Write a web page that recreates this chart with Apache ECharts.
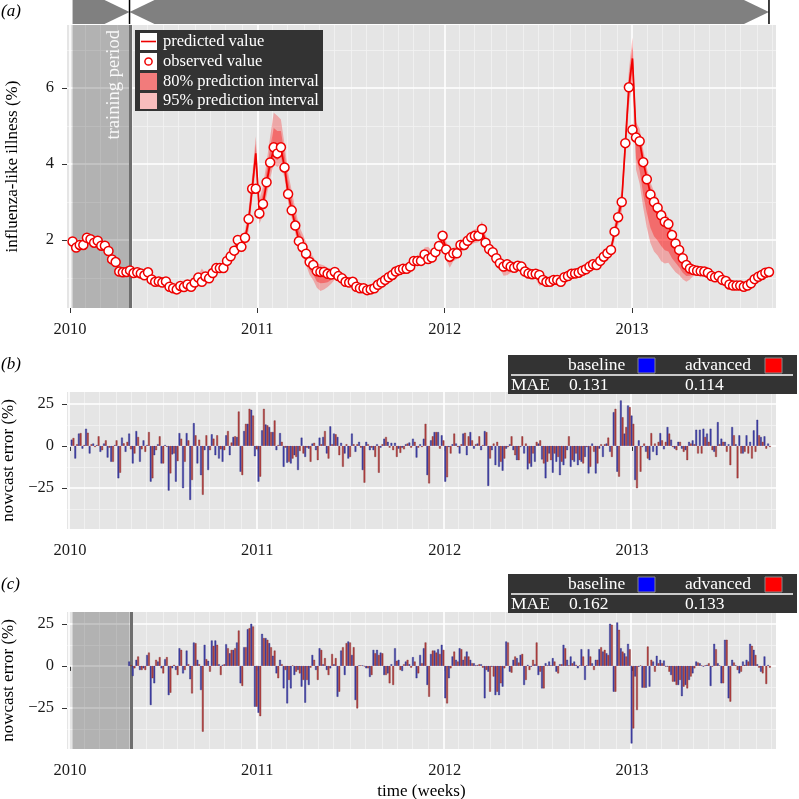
<!DOCTYPE html>
<html><head><meta charset="utf-8">
<script src="https://cdn.jsdelivr.net/npm/echarts@6/dist/echarts.min.js"></script>
<style>html,body{margin:0;padding:0;background:#fff}#c{width:799px;height:799px}</style>
</head><body><div id="c"></div>
<script>
// ---------- data ----------
const FIRST_WEEK = '2010-01-06';
const TRAIN_END = '2010-04-27';
const X_MIN = 2009.984, X_MAX = 2013.769;
const yearTicks = [2010, 2011, 2012, 2013];
const iliTicks = [2, 4, 6];
const iliMinor = [1, 3, 5, 7];
const errTicks = [-25, 0, 25];
const errMinor = [-37.5, -12.5, 12.5];

const observed = [
1.96,1.80,1.87,1.87,2.06,2.02,1.93,1.98,1.85,1.85,
1.71,1.49,1.42,1.17,1.15,1.16,1.20,1.13,1.15,1.12,
1.07,1.15,0.96,0.90,0.91,0.88,0.91,0.77,0.73,0.70,
0.79,0.76,0.83,0.77,0.88,1.01,0.90,1.04,0.99,1.13,
1.26,1.26,1.26,1.45,1.57,1.72,2.00,1.82,2.06,2.55,
3.35,3.35,2.70,2.95,3.52,4.04,4.44,4.28,4.44,3.91,
3.21,2.78,2.38,1.97,1.81,1.64,1.42,1.34,1.18,1.16,
1.16,1.11,1.09,1.16,1.05,0.99,0.90,0.88,0.90,0.77,
0.73,0.73,0.68,0.70,0.73,0.82,0.88,0.95,1.02,1.08,
1.17,1.21,1.24,1.24,1.30,1.45,1.45,1.45,1.62,1.50,
1.54,1.68,1.84,2.11,1.75,1.56,1.65,1.65,1.87,1.87,
1.98,2.07,2.11,2.11,2.29,1.93,1.76,1.68,1.52,1.39,
1.30,1.36,1.30,1.27,1.32,1.30,1.17,1.12,1.10,1.11,
1.08,0.95,0.90,0.90,0.95,0.95,0.90,1.02,1.05,1.11,
1.12,1.14,1.19,1.23,1.30,1.36,1.34,1.45,1.56,1.65,
1.74,2.22,2.60,3.00,4.55,6.02,4.90,4.70,4.60,4.05,
3.60,3.20,3.00,2.85,2.65,2.48,2.42,2.13,1.91,1.74,
1.52,1.34,1.25,1.21,1.19,1.18,1.17,1.14,1.05,1.02,
1.05,0.95,0.92,0.83,0.80,0.80,0.80,0.77,0.80,0.86,
0.97,1.03,1.08,1.14,1.16];

const PRED_START = 16;
const predicted = [
1.18,1.14,1.15,1.12,1.08,1.13,0.97,0.91,0.91,0.88,
0.90,0.78,0.74,0.71,0.78,0.76,0.82,0.78,0.88,0.98,
0.95,1.02,1.00,1.12,1.24,1.26,1.27,1.44,1.56,1.70,
1.95,1.85,2.03,2.50,3.35,4.28,2.72,2.95,3.50,4.02,
4.40,4.32,4.42,3.92,3.22,2.80,2.38,1.99,1.82,1.64,
1.43,1.34,1.19,1.16,1.15,1.11,1.10,1.14,1.05,0.99,
0.91,0.88,0.89,0.78,0.74,0.73,0.69,0.70,0.73,0.81,
0.88,0.95,1.01,1.08,1.16,1.20,1.23,1.25,1.30,1.43,
1.46,1.47,1.60,1.52,1.55,1.67,1.82,2.05,1.78,1.57,
1.64,1.66,1.85,1.88,1.97,2.06,2.10,2.12,2.25,1.95,
1.77,1.67,1.53,1.40,1.31,1.35,1.30,1.28,1.31,1.29,
1.18,1.12,1.10,1.10,1.07,0.96,0.91,0.90,0.94,0.95,
0.91,1.01,1.05,1.10,1.12,1.14,1.18,1.23,1.29,1.35,
1.35,1.44,1.55,1.65,1.76,2.20,2.62,3.02,4.50,6.02,
6.78,4.75,4.58,4.05,3.62,3.22,3.00,2.84,2.64,2.48,
2.40,2.12,1.90,1.73,1.52,1.35,1.26,1.21,1.19,1.18,
1.16,1.13,1.06,1.02,1.04,0.96,0.91,0.84,0.80,0.80,
0.80,0.78,0.80,0.86,0.96,1.03,1.08,1.13,1.15];

// distances of the interval limits below / above the prediction
const below95 = [
.10,.09,.09,.09,.09,.09,.08,.08,.08,.08, .08,.08,.07,.07,.07,.07,.08,.08,.08,.09,
.10,.10,.10,.10,.12,.12,.12,.14,.14,.15, .18,.18,.20,.25,.30,.40,.30,.30,.35,.40,
.40,.40,.40,.30,.25,.22,.20,.20,.22,.30, .35,.40,.45,.50,.45,.35,.25,.18,.15,.14,
.12,.12,.10,.09,.08,.08,.08,.08,.08,.08, .08,.08,.08,.08,.08,.08,.08,.08,.08,.08,
.12,.12,.14,.14,.15,.15,.16,.18,.30,.30, .20,.16,.16,.16,.16,.17,.18,.18,.20,.18,
.18,.16,.15,.14,.25,.28,.16,.12,.12,.12, .10,.10,.10,.12,.28,.12,.10,.10,.10,.10,
.10,.10,.10,.10,.10,.10,.10,.10,.10,.10, .10,.10,.12,.12,.14,.20,.25,.30,.40,.50,
.55,.90,1.10,1.20,1.30,1.30,1.30,1.25,1.20,1.10, 1.00,.85,.75,.65,.55,.45,.30,.15,.12,.10,
.10,.10,.10,.12,.10,.10,.10,.10,.10,.10, .10,.10,.10,.10,.10,.10,.10,.10,.10];
const below80 = [
.06,.05,.05,.05,.05,.05,.05,.05,.05,.05, .05,.05,.04,.04,.04,.04,.05,.05,.05,.05,
.06,.06,.06,.06,.07,.07,.07,.08,.08,.09, .10,.10,.12,.15,.18,.22,.18,.18,.20,.22,
.22,.22,.22,.18,.15,.13,.12,.12,.13,.18, .22,.25,.28,.30,.28,.22,.15,.10,.09,.08,
.07,.07,.06,.05,.05,.05,.05,.05,.05,.05, .05,.05,.05,.05,.05,.05,.05,.05,.05,.05,
.07,.07,.08,.08,.09,.09,.10,.11,.18,.18, .12,.10,.10,.10,.10,.10,.11,.11,.12,.11,
.11,.10,.09,.08,.15,.17,.10,.07,.07,.07, .06,.06,.06,.07,.17,.07,.06,.06,.06,.06,
.06,.06,.06,.06,.06,.06,.06,.06,.06,.06, .06,.06,.07,.07,.08,.12,.15,.18,.25,.30,
.33,.60,.75,.85,.90,.90,.90,.85,.80,.75, .70,.60,.50,.45,.38,.30,.20,.09,.07,.06,
.06,.06,.06,.07,.06,.06,.06,.06,.06,.06, .06,.06,.06,.06,.06,.06,.06,.06,.06];
const above80 = [
.06,.05,.05,.05,.05,.05,.05,.05,.05,.05, .05,.05,.04,.04,.04,.04,.05,.05,.05,.05,
.15,.06,.06,.06,.07,.07,.07,.08,.08,.09, .10,.10,.12,.18,.20,.25,.20,.25,.30,.40,
.55,.55,.45,.35,.35,.30,.28,.25,.22,.20, .15,.12,.12,.12,.10,.10,.10,.08,.07,.07,
.06,.06,.06,.05,.05,.05,.05,.05,.05,.05, .05,.05,.05,.05,.05,.05,.05,.05,.05,.05,
.08,.08,.12,.15,.10,.10,.12,.12,.10,.10, .10,.10,.10,.10,.10,.10,.11,.11,.14,.11,
.10,.09,.08,.07,.07,.07,.07,.07,.07,.07, .06,.06,.06,.06,.06,.06,.06,.06,.06,.06,
.06,.06,.06,.06,.06,.06,.06,.06,.06,.06, .06,.06,.07,.07,.08,.12,.15,.18,.25,.25,
.30,.20,.20,.20,.18,.18,.16,.15,.14,.13, .12,.12,.11,.10,.10,.09,.08,.07,.06,.06,
.06,.06,.06,.06,.06,.06,.06,.06,.06,.06, .06,.06,.06,.06,.06,.06,.06,.06,.06];
const above95 = [
.10,.09,.09,.09,.09,.09,.08,.08,.08,.08, .08,.08,.07,.07,.07,.07,.08,.08,.08,.09,
.30,.10,.10,.10,.12,.12,.12,.14,.14,.15, .18,.18,.22,.30,.35,.45,.35,.45,.55,.70,
.95,.95,.75,.60,.55,.50,.45,.40,.35,.30, .25,.22,.20,.20,.18,.16,.15,.14,.13,.12,
.11,.10,.10,.09,.08,.08,.08,.08,.08,.08, .08,.08,.08,.08,.08,.08,.08,.08,.08,.08,
.14,.14,.20,.30,.16,.16,.18,.20,.18,.18, .16,.16,.16,.16,.16,.17,.18,.18,.25,.18,
.16,.15,.14,.12,.12,.12,.12,.12,.12,.12, .10,.10,.10,.10,.10,.10,.10,.10,.10,.10,
.10,.10,.10,.10,.10,.10,.10,.10,.10,.10, .10,.10,.12,.12,.14,.20,.25,.30,.40,.45,
.55,.35,.35,.32,.30,.30,.28,.26,.24,.22, .20,.20,.18,.16,.15,.14,.13,.12,.10,.10,
.10,.10,.10,.10,.10,.10,.10,.10,.10,.10, .10,.10,.10,.10,.10,.10,.10,.10,.10];

// panel (b): nowcast error (%) from week 0
const baselineB = [
3.7,-7.5,7.3,-1.6,10.2,-4.5,1.4,0.5,-3.5,1.4,
-6.9,-9.4,0.5,-19.2,4.9,-3.5,7.3,-10.4,8.8,-9.4,
3.3,0.5,-21.2,-5.5,1.0,-10.4,0.5,-26.5,-5.0,-21.2,
7.6,-25.1,7.6,-32.0,13.5,-10.4,-17.3,-2.5,-14.3,6.9,
-5.5,-7.5,-9.4,6.3,-5.5,5.3,5.3,-15.3,8.8,13.1,
21.4,-6.1,-21.2,9.2,12.7,11.2,8.2,-2.5,7.6,-12.4,
-10.0,-10.4,-5.5,-14.3,4.9,-6.5,-1.6,1.4,-2.5,4.9,
5.3,-4.5,11.6,7.3,5.3,1.8,-4.5,-7.5,7.3,-3.5,
2.4,-14.3,2.4,-2.5,-2.5,1.0,-1.0,4.3,2.4,1.8,
1.8,-1.6,-1.0,1.0,2.0,4.3,-6.9,1.0,4.3,-17.3,
3.3,8.2,8.2,6.3,-21.2,-0.6,1.0,1.4,-4.5,7.3,
-5.5,8.2,-1.6,1.4,-2.5,8.8,-23.7,-2.5,-11.4,-12.4,
-14.7,-1.6,1.0,-2.5,-8.4,-0.6,-4.5,-13.9,-12.4,-9.4,
1.4,-8.0,-19.2,-4.5,-15.9,-9.4,-17.3,-11.4,-2.5,-12.4,
-9.4,-11.4,-9.4,-6.5,-16.3,1.4,-16.3,-1.6,-6.5,1.4,
-3.5,20.0,-15.3,27.0,7.3,24.0,18.0,-20.2,3.3,-0.6,
-3.5,-8.4,-3.5,-5.5,7.6,-2.0,11.2,3.7,-1.6,2.4,
-1.6,-2.5,2.4,3.3,9.6,9.6,10.2,7.3,10.2,-3.5,
14.1,4.3,2.4,1.0,11.2,1.0,6.3,-4.5,6.3,2.4,
9.2,15.5,5.3,5.7,1.4];
const advancedB = [
4.7,1.0,7.6,0.5,7.8,1.0,-0.6,5.7,-2.5,3.3,
-1.0,-9.4,3.3,-15.9,1.5,2.4,-2.0,-4.5,5.3,-2.0,
-3.5,8.2,-19.2,-2.5,5.7,-10.4,-0.5,-16.3,-4.5,-9.0,
4.3,-9.4,3.3,-20.2,6.3,3.7,-29.0,6.3,-2.5,4.3,
6.3,-2.0,-2.5,8.8,2.0,5.7,20.4,-17.3,13.1,22.0,
18.0,-2.0,-18.2,22.0,12.2,8.2,15.1,0.5,2.4,-1.0,
-9.4,-7.5,-6.5,-3.0,-4.5,-1.0,-9.4,1.8,-8.4,1.0,
8.8,-7.5,1.0,6.9,-5.5,-12.4,1.0,-6.5,1.0,1.0,
-1.0,-21.8,1.0,-1.0,-6.5,-15.9,1.0,5.3,-1.0,-2.5,
-6.5,-4.1,-2.0,1.4,-1.0,2.4,-1.0,-0.6,13.1,-22.2,
5.7,8.2,-1.6,3.3,-18.6,-4.5,7.3,-0.6,1.0,7.8,
5.7,3.3,1.0,5.7,0.5,8.2,-7.5,1.4,2.4,-9.4,
-7.5,-0.6,5.7,-5.5,-8.4,5.7,1.4,-10.4,-4.5,2.4,
3.3,-10.4,-9.4,-8.4,-4.5,-6.5,-9.4,-7.5,5.7,-8.4,
-4.5,-8.4,-10.4,-0.6,-12.4,-3.5,-10.4,1.0,1.0,4.9,
-6.5,22.0,-18.2,17.0,11.2,23.0,13.1,-25.1,-15.3,1.4,
-7.5,7.6,1.4,2.4,3.3,2.4,7.3,-0.6,-2.5,2.4,
-3.5,-8.4,1.4,1.0,-4.5,-4.5,5.3,2.4,-2.5,-6.5,
1.0,2.4,-3.5,-11.4,6.3,-19.2,-4.5,-3.5,-4.5,-7.5,
-3.5,6.3,2.4,-1.6,-0.6];

// panel (c): nowcast error (%) from week 16 (after training)
const baselineC = [
2.6,-6.0,3.6,-2.4,-1.4,6.5,-23.2,-10.3,2.6,-1.4,
4.0,-17.3,-1.4,-2.4,10.5,-4.4,9.1,-7.9,13.9,3.6,
-14.3,12.5,3.0,15.1,15.1,1.0,0.6,12.9,7.5,9.5,
13.9,-10.3,11.1,21.8,25.0,-24.2,-27.8,19.0,16.5,13.5,
6.0,-4.4,3.6,-13.3,-22.2,-13.3,-5.4,-2.4,-12.3,-21.8,
-11.3,6.5,-2.4,10.5,1.0,-2.4,-1.4,1.0,-18.3,9.1,
-5.4,14.5,6.5,-20.2,0.3,0.3,-1.4,-6.5,9.5,9.5,
7.9,-5.4,-4.4,1.0,10.5,3.6,-3.0,2.6,1.0,5.2,
-7.3,6.5,10.5,-11.3,7.1,9.1,9.9,12.5,-19.2,-7.3,
5.6,3.6,10.5,3.6,8.5,3.6,1.6,0.5,1.0,-19.2,
-3.4,-0.4,-17.3,-17.3,-12.3,14.5,-3.4,3.6,4.6,6.5,
-11.3,0.6,-0.4,1.0,-5.4,-13.3,1.6,2.6,4.6,-3.4,
1.0,12.5,3.6,5.6,2.6,-1.4,9.9,-8.3,9.9,1.6,
3.6,9.9,8.5,7.5,25.0,-15.3,25.8,10.5,7.5,13.1,
-46.0,-6.3,-0.4,-12.9,-12.9,-12.3,2.6,6.0,3.6,3.2,
-0.4,-5.4,-9.3,-11.3,-17.9,-11.3,-8.3,-4.4,2.6,1.6,
-0.4,0.6,-11.9,13.1,1.6,-10.3,15.5,-19.2,3.6,0.3,
-4.4,2.6,3.6,13.1,9.5,1.0,-3.4,5.6,0.5];
const advancedC = [
0.5,-1.4,5.6,-2.4,-2.4,7.9,-7.3,3.6,5.2,-4.4,
5.2,-15.9,0.6,-5.4,9.5,-2.4,1.0,-16.3,13.5,1.0,
-39.0,4.0,-3.4,11.9,12.5,-5.4,1.0,10.5,9.5,10.5,
21.0,-11.9,11.1,22.4,23.4,-24.2,-29.8,16.5,15.5,11.1,
9.1,-7.3,1.0,-2.4,-8.3,0.3,-3.4,-4.4,-8.3,-8.3,
-1.0,3.6,-8.3,9.5,4.6,-5.4,7.1,4.6,-15.3,11.1,
13.5,13.9,11.1,-25.2,0.3,-0.3,-1.4,-5.4,7.5,6.5,
7.5,-5.4,-10.3,-11.3,3.0,-2.4,1.0,3.6,-1.0,2.6,
-4.4,1.6,13.9,-18.3,9.1,7.9,7.1,9.5,-22.2,-1.4,
8.5,2.6,9.9,5.6,5.6,1.6,0.3,1.0,-1.0,-2.4,
-15.3,-6.3,-15.3,-10.3,-1.4,13.9,-4.0,5.6,2.0,7.1,
-8.3,-2.4,3.6,13.9,-3.4,-13.3,0.3,0.3,2.6,-4.4,
1.0,10.5,0.3,1.6,0.6,0.3,5.6,0.3,5.6,-2.4,
3.6,11.1,9.5,6.5,24.4,-15.3,21.4,8.5,5.6,9.9,
-37.1,-26.2,0.3,-12.9,11.5,3.6,-3.4,1.6,1.6,-0.4,
-3.4,-9.3,-11.3,-8.3,-12.3,-13.3,-6.3,-1.4,2.0,0.3,
0.3,1.6,-0.4,9.9,0.3,-10.3,15.5,-21.2,2.0,-2.4,
-3.4,0.6,2.6,11.9,6.5,-1.0,-4.4,-10.7,-1.0];

const maeLabels = ['baseline', 'advanced'];
const maeB = ['0.131', '0.114'];
const maeC = ['0.162', '0.133'];
const legendLabels = ['predicted value', 'observed value', '80% prediction interval', '95% prediction interval'];

// ---------- helpers ----------
const F = 'Liberation Serif';
const DAY = 86400000;
function fracYear(t) {
  const y = new Date(t).getUTCFullYear();
  const a = Date.UTC(y, 0, 1), b = Date.UTC(y + 1, 0, 1);
  return y + (t - a) / (b - a);
}
const t0 = Date.parse(FIRST_WEEK + 'T00:00:00Z');
const weekX = observed.map((_, i) => fracYear(t0 + i * 7 * DAY));
const trainEndX = fracYear(Date.parse(TRAIN_END + 'T00:00:00Z'));
const monthLines = [];
for (let y = 2009; y <= 2014; y++) for (let m = 1; m < 12; m++) {
  const v = fracYear(Date.UTC(y, m, 1));
  if (v > X_MIN && v < X_MAX) monthLines.push(v);
}
const MAJOR = { color: '#ffffff', width: 1.6, type: 'solid' };
const MINOR = { color: '#f3f3f3', width: 0.8, type: 'solid' };
function gridLines(hMajor, hMinor) {
  const d = [];
  monthLines.forEach(v => d.push({ xAxis: v, lineStyle: MINOR }));
  hMinor.forEach(v => d.push({ yAxis: v, lineStyle: MINOR }));
  yearTicks.forEach(v => d.push({ xAxis: v, lineStyle: MAJOR }));
  hMajor.forEach(v => d.push({ yAxis: v, lineStyle: MAJOR }));
  return { silent: true, z: 1, symbol: ['none', 'none'], animation: false,
    label: { show: false }, emphasis: { disabled: true }, data: d };
}
const trainShade = { silent: true, z: 1.5, itemStyle: { color: 'rgba(0,0,0,0.22)' }, label: { show: false },
  emphasis: { disabled: true }, data: [[{ xAxis: weekX[0] }, { xAxis: trainEndX }]] };
const trainLine = { silent: true, z: 1.6, symbol: ['none', 'none'], animation: false, label: { show: false },
  emphasis: { disabled: true }, data: [{ xAxis: trainEndX, lineStyle: { color: '#6e6e6e', width: 3, type: 'solid' } }] };

const predRows = predicted.map((p, k) => [weekX[PRED_START + k], p]);
const band95 = predicted.map((p, k) => [weekX[PRED_START + k], p - below95[k], p + above95[k]]);
const band80 = predicted.map((p, k) => [weekX[PRED_START + k], p - below80[k], p + above80[k]]);
function bandRenderer(rows, fill) {
  return function (params, api) {
    if (params.dataIndex !== 0) return null;
    const up = rows.map(r => api.coord([r[0], r[2]]));
    const lo = rows.map(r => api.coord([r[0], r[1]])).reverse();
    return { type: 'polygon', shape: { points: up.concat(lo) }, style: { fill: fill }, silent: true };
  };
}

function xAxisDef(gi, name) {
  return { type: 'value', gridIndex: gi, min: X_MIN, max: X_MAX,
    axisLine: { show: false }, splitLine: { show: false },
    axisTick: { show: true, customValues: yearTicks, length: 5, lineStyle: { color: '#333', width: 1 } },
    axisLabel: { customValues: yearTicks, formatter: v => String(Math.round(v)), fontFamily: F, fontSize: 16.5, color: '#1a1a1a', margin: 13 },
    name: name || '', nameLocation: 'middle', nameGap: 34,
    nameTextStyle: { fontFamily: F, fontSize: 17, color: '#000' } };
}
function yAxisDef(gi, min, max, ticks, name, fmt) {
  return { type: 'value', gridIndex: gi, min: min, max: max,
    axisLine: { show: false }, splitLine: { show: false },
    axisTick: { show: true, customValues: ticks, length: 5, lineStyle: { color: '#333', width: 1 } },
    axisLabel: { customValues: ticks, formatter: fmt, fontFamily: F, fontSize: 16.5, color: '#1a1a1a', margin: 13 },
    name: name, nameLocation: 'middle', nameGap: 46, nameRotate: 90,
    nameTextStyle: { fontFamily: F, fontSize: 17, color: '#000' } };
}
const errFmt = v => (v < 0 ? '\u2212' + Math.abs(v) : String(v));
function gridDef(top, height) {
  return { left: 67, top: top, width: 709, height: height, show: true, backgroundColor: '#e5e5e5', borderWidth: 0,
    containLabel: false, outerBoundsMode: 'none' };
}
const BLUE = { color: '#4242ab', borderColor: '#2c2c7c', borderWidth: 0.4 };
const RED = { color: '#b84242', borderColor: '#7c2c2c', borderWidth: 0.4 };

const chart = echarts.init(document.getElementById('c'), null, { width: 799, height: 799 });
chart.setOption({
  animation: false,
  textStyle: { fontFamily: F },
  grid: [gridDef(25, 283), gridDef(392, 137), gridDef(612, 137)],
  xAxis: [xAxisDef(0), xAxisDef(1), xAxisDef(2, 'time (weeks)')],
  yAxis: [
    yAxisDef(0, 0.21, 7.66, iliTicks, 'influenza-like illness (%)', v => String(v)),
    yAxisDef(1, -49.3, 32, errTicks, 'nowcast error (%)', errFmt),
    yAxisDef(2, -49.3, 32, errTicks, 'nowcast error (%)', errFmt)
  ],
  series: [
    { type: 'custom', name: '95% prediction interval', xAxisIndex: 0, yAxisIndex: 0, z: 2, silent: true,
      data: band95, encode: { x: 0, y: [1, 2] }, renderItem: bandRenderer(band95, 'rgba(255,0,0,0.27)') },
    { type: 'custom', name: '80% prediction interval', xAxisIndex: 0, yAxisIndex: 0, z: 2.1, silent: true,
      data: band80, encode: { x: 0, y: [1, 2] }, renderItem: bandRenderer(band80, 'rgba(255,0,0,0.35)') },
    { type: 'line', name: 'predicted value', xAxisIndex: 0, yAxisIndex: 0, z: 3, data: predRows,
      symbol: 'none', lineStyle: { color: '#f00000', width: 1.7 }, silent: true,
      markLine: gridLines(iliTicks, iliMinor) },
    { type: 'scatter', name: 'observed value', xAxisIndex: 0, yAxisIndex: 0, z: 4,
      data: observed.map((v, i) => [weekX[i], v]), symbol: 'circle', symbolSize: 9,
      itemStyle: { color: '#ffffff', borderColor: '#ee0000', borderWidth: 1.5, opacity: 1 }, silent: true,
      markArea: trainShade, markLine: trainLine },
    { type: 'bar', name: 'baseline', xAxisIndex: 1, yAxisIndex: 1, z: 2, barWidth: 1.8, barGap: '0%',
      data: baselineB.map((v, i) => [weekX[i], v]), itemStyle: BLUE, silent: true,
      markLine: gridLines(errTicks, errMinor) },
    { type: 'bar', name: 'advanced', xAxisIndex: 1, yAxisIndex: 1, z: 2, barWidth: 1.8, barGap: '0%',
      data: advancedB.map((v, i) => [weekX[i], v]), itemStyle: RED, silent: true },
    { type: 'bar', name: 'baseline', xAxisIndex: 2, yAxisIndex: 2, z: 2, barWidth: 1.8, barGap: '0%',
      data: baselineC.map((v, k) => [weekX[PRED_START + k], v]), itemStyle: BLUE, silent: true,
      markLine: gridLines(errTicks, errMinor), markArea: trainShade },
    { type: 'bar', name: 'advanced', xAxisIndex: 2, yAxisIndex: 2, z: 2, barWidth: 1.8, barGap: '0%',
      data: advancedC.map((v, k) => [weekX[PRED_START + k], v]), itemStyle: RED, silent: true,
      markLine: trainLine }
  ]
});

// ---------- annotations (positions from the axes) ----------
function px(v) { return chart.convertToPixel({ xAxisIndex: 0 }, v); }
const xs = px(weekX[0]), xt = px(trainEndX), xe = px(weekX[weekX.length - 1]);
const BANNER = '#808080';
function txt(x, y, s, size, opt) {
  return Object.assign({ type: 'text', x: x, y: y, z: 100,
    style: Object.assign({ text: s, fontFamily: F, fontSize: size, fill: '#fff',
      align: 'left', verticalAlign: 'middle', textAlign: 'left', textVerticalAlign: 'middle' }, opt || {}) });
}
function table(y0, vals) {
  return [
    { type: 'rect', z: 99, shape: { x: 508, y: y0, width: 289, height: 39 }, style: { fill: '#333333' } },
    { type: 'line', z: 100, shape: { x1: 511, y1: y0 + 20, x2: 793, y2: y0 + 20 }, style: { stroke: '#fff', lineWidth: 1.5 } },
    txt(568, y0 + 10.5, maeLabels[0], 17.5), txt(685, y0 + 10.5, maeLabels[1], 17.5),
    { type: 'rect', z: 100, shape: { x: 638, y: y0 + 3, width: 17, height: 15 }, style: { fill: '#0000ff', stroke: '#888', lineWidth: 1 } },
    { type: 'rect', z: 100, shape: { x: 765, y: y0 + 3, width: 17, height: 15 }, style: { fill: '#ff0000', stroke: '#888', lineWidth: 1 } },
    txt(511, y0 + 30, 'MAE', 17.5), txt(569, y0 + 30, vals[0], 17.5), txt(685, y0 + 30, vals[1], 17.5)
  ];
}
const graphics = [
  { type: 'polygon', z: 50, shape: { points: [[xs, 0], [xt - 25, 0], [xt, 12], [xt - 25, 24], [xs, 24]] }, style: { fill: BANNER } },
  { type: 'polygon', z: 50, shape: { points: [[xt, 12], [xt + 25, 0], [xe - 25, 0], [xe, 12], [xe - 25, 24], [xt + 25, 24]] }, style: { fill: BANNER } },
  { type: 'line', z: 51, shape: { x1: xt, y1: 0, x2: xt, y2: 24 }, style: { stroke: '#000', lineWidth: 1.5 } },
  { type: 'line', z: 51, shape: { x1: xe, y1: 0, x2: xe, y2: 24 }, style: { stroke: '#000', lineWidth: 1.5 } },
  txt(1, 12, '(a)', 17, { fill: '#000', fontStyle: 'italic' }),
  txt(1, 365, '(b)', 17, { fill: '#000', fontStyle: 'italic' }),
  txt(1, 585, '(c)', 17, { fill: '#000', fontStyle: 'italic' }),
  Object.assign(txt(xt - 15, 30, 'training period', 18.5, { fill: 'rgba(255,255,255,0.9)', align: 'right', textAlign: 'right' }), { rotation: Math.PI / 2 }),
  // legend
  { type: 'rect', z: 99, shape: { x: 135, y: 30, width: 188, height: 81 }, style: { fill: '#333333' } },
  { type: 'rect', z: 100, shape: { x: 140, y: 33, width: 17, height: 17 }, style: { fill: '#fff' } },
  { type: 'line', z: 101, shape: { x1: 141, y1: 41.5, x2: 156, y2: 41.5 }, style: { stroke: '#ee0000', lineWidth: 1.6 } },
  { type: 'rect', z: 100, shape: { x: 140, y: 53, width: 17, height: 17 }, style: { fill: '#fff' } },
  { type: 'circle', z: 101, shape: { cx: 148.5, cy: 61.5, r: 3.6 }, style: { fill: '#fff', stroke: '#ee0000', lineWidth: 1.5 } },
  { type: 'rect', z: 100, shape: { x: 140, y: 73, width: 17, height: 17 }, style: { fill: '#f27b7b' } },
  { type: 'rect', z: 100, shape: { x: 140, y: 93, width: 17, height: 16 }, style: { fill: '#f8bdbd' } },
  txt(163, 42, legendLabels[0], 16.5), txt(163, 62, legendLabels[1], 16.5),
  txt(163, 81.5, legendLabels[2], 16.5), txt(163, 101, legendLabels[3], 16.5)
].concat(table(355, maeB), table(574, maeC));
chart.setOption({ graphic: graphics });
</script>
</body></html>
